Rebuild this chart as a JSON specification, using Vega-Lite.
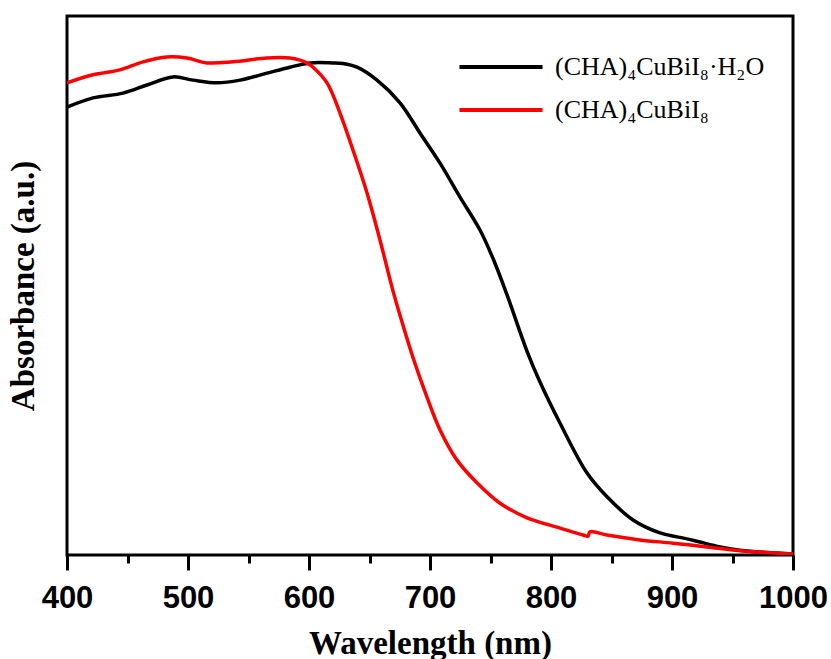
{
  "$schema": "https://vega.github.io/schema/vega-lite/v6.json",
  "width": 726,
  "height": 539,
  "autosize": "none",
  "padding": {"left": 67, "top": 16, "right": 38, "bottom": 104},
  "background": "white",
  "config": {
    "view": {"stroke": "black", "strokeWidth": 3},
    "font": "Liberation Serif"
  },
  "data": {
    "values": [
      {"wl": 400, "a": 0.831, "s": "(CHA)₄CuBiI₈·H₂O"},
      {"wl": 421.5, "a": 0.848, "s": "(CHA)₄CuBiI₈·H₂O"},
      {"wl": 446.3, "a": 0.857, "s": "(CHA)₄CuBiI₈·H₂O"},
      {"wl": 466.1, "a": 0.872, "s": "(CHA)₄CuBiI₈·H₂O"},
      {"wl": 487.6, "a": 0.887, "s": "(CHA)₄CuBiI₈·H₂O"},
      {"wl": 504.1, "a": 0.881, "s": "(CHA)₄CuBiI₈·H₂O"},
      {"wl": 524.0, "a": 0.876, "s": "(CHA)₄CuBiI₈·H₂O"},
      {"wl": 543.0, "a": 0.881, "s": "(CHA)₄CuBiI₈·H₂O"},
      {"wl": 565.3, "a": 0.894, "s": "(CHA)₄CuBiI₈·H₂O"},
      {"wl": 584.3, "a": 0.905, "s": "(CHA)₄CuBiI₈·H₂O"},
      {"wl": 600.8, "a": 0.913, "s": "(CHA)₄CuBiI₈·H₂O"},
      {"wl": 619.8, "a": 0.913, "s": "(CHA)₄CuBiI₈·H₂O"},
      {"wl": 628.0, "a": 0.912, "s": "(CHA)₄CuBiI₈·H₂O"},
      {"wl": 639.7, "a": 0.905, "s": "(CHA)₄CuBiI₈·H₂O"},
      {"wl": 656.2, "a": 0.881, "s": "(CHA)₄CuBiI₈·H₂O"},
      {"wl": 675.2, "a": 0.839, "s": "(CHA)₄CuBiI₈·H₂O"},
      {"wl": 691.7, "a": 0.783, "s": "(CHA)₄CuBiI₈·H₂O"},
      {"wl": 708.3, "a": 0.727, "s": "(CHA)₄CuBiI₈·H₂O"},
      {"wl": 724.8, "a": 0.664, "s": "(CHA)₄CuBiI₈·H₂O"},
      {"wl": 741.3, "a": 0.603, "s": "(CHA)₄CuBiI₈·H₂O"},
      {"wl": 752.1, "a": 0.55, "s": "(CHA)₄CuBiI₈·H₂O"},
      {"wl": 763.6, "a": 0.483, "s": "(CHA)₄CuBiI₈·H₂O"},
      {"wl": 780.2, "a": 0.378, "s": "(CHA)₄CuBiI₈·H₂O"},
      {"wl": 790.9, "a": 0.321, "s": "(CHA)₄CuBiI₈·H₂O"},
      {"wl": 807.4, "a": 0.245, "s": "(CHA)₄CuBiI₈·H₂O"},
      {"wl": 829.8, "a": 0.152, "s": "(CHA)₄CuBiI₈·H₂O"},
      {"wl": 846.3, "a": 0.108, "s": "(CHA)₄CuBiI₈·H₂O"},
      {"wl": 867.8, "a": 0.065, "s": "(CHA)₄CuBiI₈·H₂O"},
      {"wl": 890.1, "a": 0.041, "s": "(CHA)₄CuBiI₈·H₂O"},
      {"wl": 912.4, "a": 0.030, "s": "(CHA)₄CuBiI₈·H₂O"},
      {"wl": 923.1, "a": 0.024, "s": "(CHA)₄CuBiI₈·H₂O"},
      {"wl": 939.7, "a": 0.015, "s": "(CHA)₄CuBiI₈·H₂O"},
      {"wl": 956.2, "a": 0.009, "s": "(CHA)₄CuBiI₈·H₂O"},
      {"wl": 975.0, "a": 0.005, "s": "(CHA)₄CuBiI₈·H₂O"},
      {"wl": 1000, "a": 0.002, "s": "(CHA)₄CuBiI₈·H₂O"},
      {"wl": 400, "a": 0.876, "s": "(CHA)₄CuBiI₈"},
      {"wl": 421.5, "a": 0.891, "s": "(CHA)₄CuBiI₈"},
      {"wl": 443.8, "a": 0.900, "s": "(CHA)₄CuBiI₈"},
      {"wl": 462.8, "a": 0.915, "s": "(CHA)₄CuBiI₈"},
      {"wl": 482.6, "a": 0.924, "s": "(CHA)₄CuBiI₈"},
      {"wl": 499.2, "a": 0.922, "s": "(CHA)₄CuBiI₈"},
      {"wl": 515.7, "a": 0.913, "s": "(CHA)₄CuBiI₈"},
      {"wl": 537.2, "a": 0.915, "s": "(CHA)₄CuBiI₈"},
      {"wl": 565.3, "a": 0.922, "s": "(CHA)₄CuBiI₈"},
      {"wl": 584.3, "a": 0.922, "s": "(CHA)₄CuBiI₈"},
      {"wl": 592.6, "a": 0.918, "s": "(CHA)₄CuBiI₈"},
      {"wl": 598.3, "a": 0.913, "s": "(CHA)₄CuBiI₈"},
      {"wl": 603.3, "a": 0.905, "s": "(CHA)₄CuBiI₈"},
      {"wl": 614.9, "a": 0.876, "s": "(CHA)₄CuBiI₈"},
      {"wl": 625.6, "a": 0.820, "s": "(CHA)₄CuBiI₈"},
      {"wl": 636.4, "a": 0.751, "s": "(CHA)₄CuBiI₈"},
      {"wl": 647.9, "a": 0.672, "s": "(CHA)₄CuBiI₈"},
      {"wl": 658.7, "a": 0.584, "s": "(CHA)₄CuBiI₈"},
      {"wl": 669.4, "a": 0.490, "s": "(CHA)₄CuBiI₈"},
      {"wl": 675.2, "a": 0.445, "s": "(CHA)₄CuBiI₈"},
      {"wl": 686.0, "a": 0.366, "s": "(CHA)₄CuBiI₈"},
      {"wl": 697.5, "a": 0.293, "s": "(CHA)₄CuBiI₈"},
      {"wl": 708.3, "a": 0.232, "s": "(CHA)₄CuBiI₈"},
      {"wl": 722.3, "a": 0.176, "s": "(CHA)₄CuBiI₈"},
      {"wl": 738.8, "a": 0.134, "s": "(CHA)₄CuBiI₈"},
      {"wl": 757.9, "a": 0.096, "s": "(CHA)₄CuBiI₈"},
      {"wl": 780.2, "a": 0.069, "s": "(CHA)₄CuBiI₈"},
      {"wl": 807.4, "a": 0.050, "s": "(CHA)₄CuBiI₈"},
      {"wl": 826.4, "a": 0.037, "s": "(CHA)₄CuBiI₈"},
      {"wl": 830.6, "a": 0.035, "s": "(CHA)₄CuBiI₈"},
      {"wl": 832.2, "a": 0.043, "s": "(CHA)₄CuBiI₈"},
      {"wl": 846.3, "a": 0.037, "s": "(CHA)₄CuBiI₈"},
      {"wl": 873.6, "a": 0.028, "s": "(CHA)₄CuBiI₈"},
      {"wl": 900.8, "a": 0.022, "s": "(CHA)₄CuBiI₈"},
      {"wl": 928.9, "a": 0.015, "s": "(CHA)₄CuBiI₈"},
      {"wl": 956.2, "a": 0.008, "s": "(CHA)₄CuBiI₈"},
      {"wl": 1000, "a": 0.002, "s": "(CHA)₄CuBiI₈"}
    ]
  },
  "mark": {"type": "line", "strokeWidth": 3.5, "interpolate": "catmull-rom", "clip": true},
  "encoding": {
    "x": {
      "field": "wl",
      "type": "quantitative",
      "scale": {"domain": [400, 1000], "nice": false, "zero": false},
      "axis": {
        "title": "Wavelength (nm)",
        "values": [400, 450, 500, 550, 600, 650, 700, 750, 800, 850, 900, 950, 1000],
        "labelExpr": "datum.value % 100 === 0 ? datum.label : ''",
        "format": "d",
        "tickSize": {"condition": {"test": "datum.value % 100 === 0", "value": 15}, "value": 8},
        "tickWidth": 3,
        "tickColor": "black",
        "domain": false,
        "grid": false,
        "labelFont": "Liberation Sans",
        "labelFontSize": 31,
        "labelFontWeight": "bold",
        "labelColor": "black",
        "labelPadding": 13,
        "labelOverlap": false,
        "labelFlush": false,
        "titleFont": "Liberation Serif",
        "titleFontSize": 33,
        "titleFontWeight": "bold",
        "titleColor": "black",
        "titlePadding": 14
      }
    },
    "y": {
      "field": "a",
      "type": "quantitative",
      "scale": {"domain": [0, 1], "nice": false},
      "axis": {
        "title": "Absorbance (a.u.)",
        "ticks": false,
        "labels": false,
        "domain": false,
        "grid": false,
        "titleFont": "Liberation Serif",
        "titleFontSize": 33,
        "titleFontWeight": "bold",
        "titleColor": "black",
        "titlePadding": 27
      }
    },
    "color": {
      "field": "s",
      "type": "nominal",
      "scale": {"domain": ["(CHA)₄CuBiI₈·H₂O", "(CHA)₄CuBiI₈"], "range": ["#000000", "#ff0000"]},
      "legend": {
        "title": null,
        "orient": "none",
        "legendX": 421,
        "legendY": 38,
        "padding": 0,
        "symbolType": "M-5,0H5",
        "symbolSize": 276,
        "symbolStrokeWidth": 4,
        "labelFont": "Liberation Serif",
        "labelFontSize": 26,
        "labelColor": "black",
        "labelOffset": 41,
        "rowPadding": 17,
        "labelLimit": 400
      }
    }
  }
}
